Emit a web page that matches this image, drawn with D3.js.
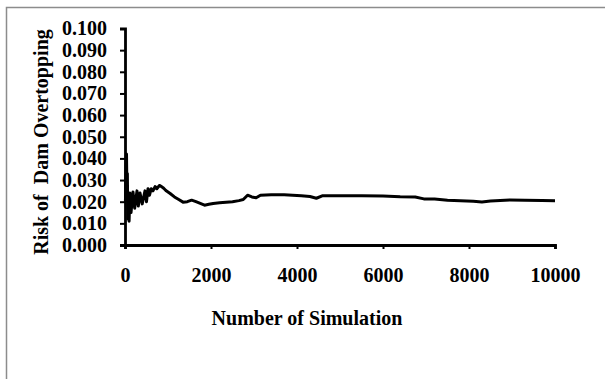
<!DOCTYPE html>
<html><head><meta charset="utf-8">
<script src="https://cdn.jsdelivr.net/npm/d3@7"></script>
<style>
html,body{margin:0;padding:0;background:#fff;}
svg{display:block;}
text{font-family:"Liberation Serif","Times New Roman",serif;font-weight:bold;fill:#000;}
</style></head>
<body>
<script>
const simN = [10,25,35,45,55,65,80,95,115,140,186,225,279,310,349,400,465,500,535,570,610,650,700,740,800,850,900,950,1050,1150,1250,1350,1450,1550,1650,1750,1850,1950,2050,2200,2350,2500,2650,2750,2850,2950,3050,3150,3400,3700,3900,4100,4300,4450,4600,5000,5500,6000,6400,6750,6950,7200,7500,7800,8100,8300,8500,8950,9300,9700,10000];
const risk = [0.020,0.038,0.042,0.025,0.033,0.012,0.020,0.011,0.024,0.015,0.0245,0.017,0.025,0.018,0.024,0.019,0.025,0.020,0.026,0.023,0.026,0.025,0.027,0.026,0.0275,0.027,0.0262,0.0252,0.0238,0.0222,0.021,0.0198,0.0200,0.0207,0.0200,0.0192,0.0184,0.0188,0.0192,0.0195,0.0198,0.0200,0.0205,0.0210,0.0230,0.0222,0.0218,0.0230,0.0232,0.0232,0.0230,0.0228,0.0224,0.0216,0.0228,0.0228,0.0228,0.0226,0.0223,0.0222,0.0213,0.0212,0.0207,0.0204,0.0202,0.0199,0.0203,0.0208,0.0207,0.0205,0.0204];
const xTicks = [0,2000,4000,6000,8000,10000];
const yTicks = [0,0.01,0.02,0.03,0.04,0.05,0.06,0.07,0.08,0.09,0.10];
const xTitle = "Number of Simulation";
const yTitle = "Risk of\u00a0 Dam Overtopping";

const W = 605, H = 379;
const svg = d3.select("body").append("svg").attr("width", W).attr("height", H);

svg.append("rect").attr("x", 6.5).attr("y", 7.5).attr("width", 640).attr("height", 420)
  .attr("fill", "none").attr("stroke", "#8c8c8c").attr("stroke-width", 1.5);

const x = d3.scaleLinear().domain([0, 10000]).range([125, 555]);
const y = d3.scaleLinear().domain([0, 0.1]).range([245, 28.5]);

const gx = svg.append("g").attr("transform", "translate(0,245)")
  .call(d3.axisBottom(x).tickValues(xTicks).tickSize(4).tickPadding(19).tickFormat(d3.format("d")));
const gy = svg.append("g").attr("transform", "translate(125,0)")
  .call(d3.axisLeft(y).tickValues(yTicks).tickSize(5).tickPadding(13).tickFormat(d3.format(".3f")));

[gx, gy].forEach(g => {
  g.select(".domain").attr("stroke", "#000").attr("stroke-width", 2.8);
  g.selectAll(".tick line").attr("stroke", "#000").attr("stroke-width", 2);
  g.selectAll("text").style("font-family", '"Liberation Serif","Times New Roman",serif')
    .style("font-weight", "bold").style("font-size", "20px").attr("fill", "#000");
});

const line = d3.line().x((d, i) => x(simN[i])).y(d => y(d));
svg.append("path").datum(risk).attr("d", line)
  .attr("fill", "none").attr("stroke", "#000").attr("stroke-width", 3).attr("stroke-linejoin", "round");

svg.append("text").attr("x", 307).attr("y", 325).attr("text-anchor", "middle")
  .style("font-size", "20px").text(xTitle);
svg.append("text").attr("transform", "translate(48,142) rotate(-90)").attr("text-anchor", "middle")
  .style("font-size", "20px").text(yTitle);
</script>
</body></html>
